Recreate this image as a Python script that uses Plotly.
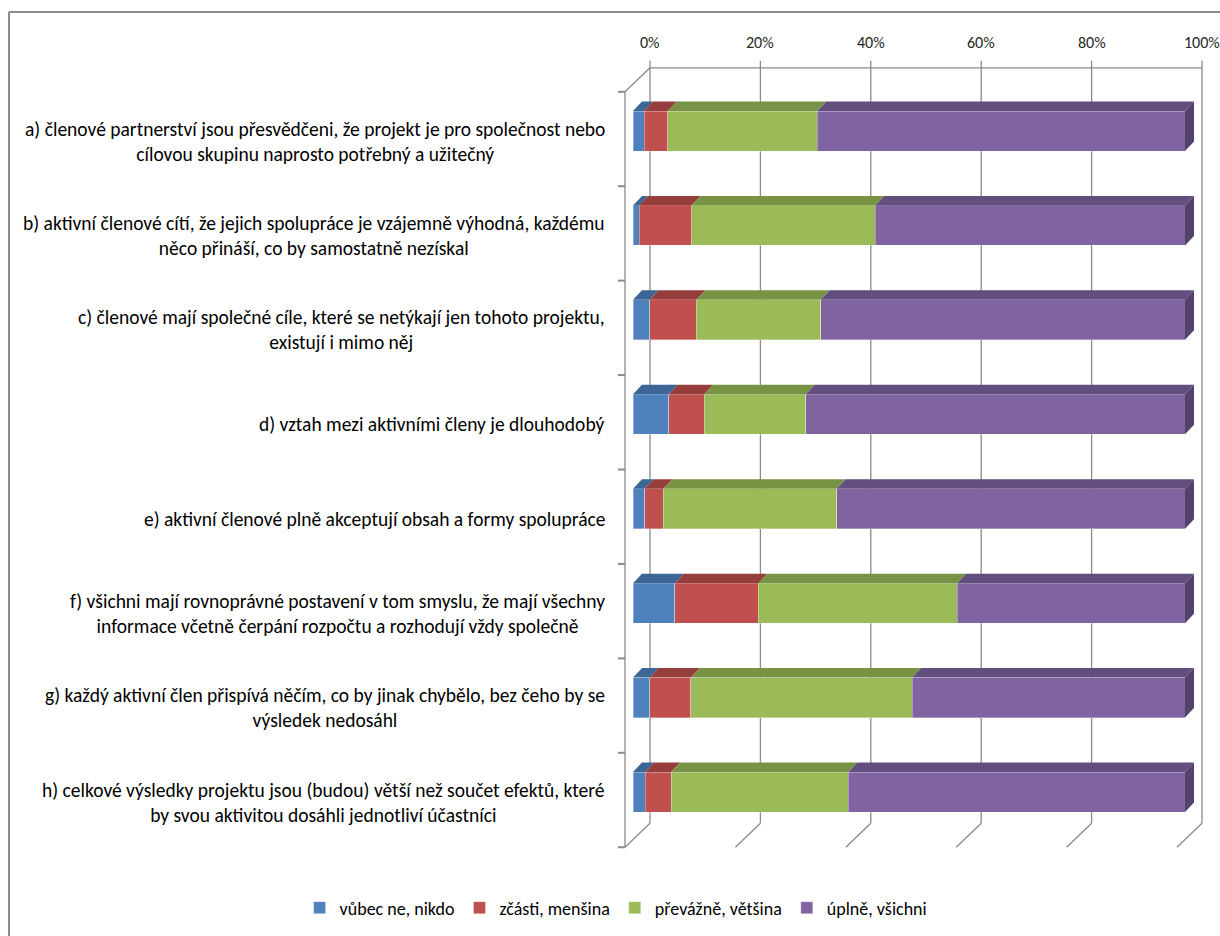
import plotly.graph_objects as go

categories = [
    "a) členové partnerství jsou přesvědčeni, že projekt je pro společnost nebo<br>cílovou skupinu naprosto potřebný a užitečný",
    "b) aktivní členové cítí, že jejich spolupráce je vzájemně výhodná, každému<br>něco přináší, co by samostatně nezískal",
    "c) členové mají společné cíle, které se netýkají jen tohoto projektu,<br>existují i mimo něj",
    "d) vztah mezi aktivními členy je dlouhodobý",
    "e) aktivní členové plně akceptují obsah a formy spolupráce",
    "f) všichni mají rovnoprávné postavení v tom smyslu, že mají všechny<br>informace včetně čerpání rozpočtu a rozhodují vždy společně",
    "g) každý aktivní člen přispívá něčím, co by jinak chybělo, bez čeho by se<br>výsledek nedosáhl",
    "h) celkové výsledky projektu jsou (budou) větší než součet efektů, které<br>by svou aktivitou dosáhli jednotliví účastníci",
]
series_names = ["vůbec ne, nikdo", "zčásti, menšina", "převážně, většina", "úplně, všichni"]
vubec_ne = [2.0, 1.1, 3.0, 6.5, 2.1, 7.6, 3.0, 2.2]
zcasti = [4.3, 9.5, 8.5, 6.4, 3.4, 15.1, 7.5, 4.7]
prevazne = [27.1, 33.3, 22.5, 18.4, 31.4, 36.0, 40.1, 32.1]
uplne = [66.6, 56.1, 66.0, 68.7, 63.1, 41.3, 49.4, 61.0]
x_ticks = [0, 20, 40, 60, 80, 100]
x_tick_labels = ["0%", "20%", "40%", "60%", "80%", "100%"]

front_colors = ["#4f81bd", "#c0504d", "#9bbb59", "#8064a2"]
top_colors = ["#3c6696", "#963e3c", "#789344", "#634e80"]
side_color = "#54426c"
grid_color = "#8a8a8a"

W, H = 1220, 936
# pixel geometry of the bar front plane
X0PX, XSCALE = 633.0, 5.52      # px of 0 %, px per 1 %
Y0PX, YSCALE = 131.0, 94.43     # px of first category centre, px per category
xr = [-X0PX / XSCALE, (W - X0PX) / XSCALE]
yr = [(H - Y0PX) / YSCALE, -Y0PX / YSCALE]

def dxu(px):
    return px / XSCALE

def dyu(px):
    return px / YSCALE

bar_w = dyu(40)
depth_dx, depth_dy = dxu(9), dyu(9.5)
back_dx, back_dy = dxu(17), dyu(-16)
front_dx, front_dy = dxu(-8), dyu(8)

series = [vubec_ne, zcasti, prevazne, uplne]
ypos = list(range(len(categories)))

fig = go.Figure()
for name, vals, col in zip(series_names, series, front_colors):
    fig.add_trace(go.Bar(
        y=ypos, x=vals, name=name, orientation="h", width=bar_w,
        marker=dict(color=col, line=dict(color="rgba(255,255,255,0.55)", width=0.6)),
        hoverinfo="x+name",
    ))

# 3D top faces
for j, (vals, col) in enumerate(zip(series, top_colors)):
    xs, ys = [], []
    for i in ypos:
        start = sum(series[k][i] for k in range(j))
        end = start + vals[i]
        yt = i - bar_w / 2
        xs += [start, end, end + depth_dx, start + depth_dx, start, None]
        ys += [yt, yt, yt - depth_dy, yt - depth_dy, yt, None]
    fig.add_trace(go.Scatter(x=xs, y=ys, fill="toself", fillcolor=col, mode="lines",
                             line=dict(width=0, color=col), hoverinfo="skip", showlegend=False))

# right end faces
xs, ys = [], []
for i in ypos:
    total = sum(s[i] for s in series)
    yt, yb = i - bar_w / 2, i + bar_w / 2
    xs += [total, total + depth_dx, total + depth_dx, total, total, None]
    ys += [yt, yt - depth_dy, yb - depth_dy, yb, yt, None]
fig.add_trace(go.Scatter(x=xs, y=ys, fill="toself", fillcolor=side_color, mode="lines",
                         line=dict(width=0, color=side_color), hoverinfo="skip", showlegend=False))

shapes = []
n = len(categories)
ln = dict(color=grid_color, width=1.3)
top_y = -0.5 + back_dy
bot_y = n - 0.5 + back_dy
for v in x_ticks:
    xb = v + back_dx
    shapes.append(dict(type="line", xref="x", yref="y", x0=xb, x1=xb, y0=top_y - dyu(7), y1=bot_y, line=ln, layer="below"))
    shapes.append(dict(type="line", xref="x", yref="y", x0=xb, x1=v + front_dx, y0=bot_y, y1=n - 0.5 + front_dy, line=ln, layer="below"))
# back wall top edge
shapes.append(dict(type="line", xref="x", yref="y", x0=back_dx, x1=100 + back_dx, y0=top_y, y1=top_y, line=ln, layer="below"))
# left wall front edge and its top diagonal
shapes.append(dict(type="line", xref="x", yref="y", x0=front_dx, x1=front_dx, y0=-0.5 + front_dy, y1=n - 0.5 + front_dy, line=ln, layer="below"))
shapes.append(dict(type="line", xref="x", yref="y", x0=front_dx, x1=back_dx, y0=-0.5 + front_dy, y1=top_y, line=ln, layer="below"))
for k in range(n + 1):
    yk = k - 0.5 + front_dy
    shapes.append(dict(type="line", xref="x", yref="y", x0=front_dx - dxu(7), x1=front_dx, y0=yk, y1=yk,
                       line=dict(color=grid_color, width=2), layer="below"))
# chart border
shapes.append(dict(type="line", xref="paper", yref="paper", x0=9 / W, x1=1.01, y0=1 - 12 / H, y1=1 - 12 / H,
                   line=dict(color="#8c8c8c", width=2)))
shapes.append(dict(type="line", xref="paper", yref="paper", x0=9 / W, x1=9 / W, y0=1 - 12 / H, y1=-0.01,
                   line=dict(color="#8c8c8c", width=2)))

annotations = []
for v, t in zip(x_ticks, x_tick_labels):
    annotations.append(dict(x=v + back_dx, y=dyu(42 - Y0PX), xref="x", yref="y", text=t, showarrow=False,
                            font=dict(size=16, color="#262626"), xanchor="center", yanchor="middle"))
for i, c in enumerate(categories):
    annotations.append(dict(x=607 / W, y=i + dyu(10), xref="paper", yref="y", text=c, showarrow=False,
                            align="center", xanchor="right", yanchor="middle",
                            font=dict(size=19.5, color="#000000")))

fig.update_layout(
    width=W, height=H,
    margin=dict(l=0, r=0, t=0, b=0),
    barmode="stack",
    paper_bgcolor="white", plot_bgcolor="white",
    font=dict(family="Carlito, Lato, 'Liberation Sans Narrow', sans-serif", color="#000000"),
    xaxis=dict(range=xr, visible=False, fixedrange=True),
    yaxis=dict(range=yr, visible=False, fixedrange=True),
    shapes=shapes,
    annotations=annotations,
    showlegend=True,
    legend=dict(orientation="h", x=0.505, xanchor="center", y=1 - 908 / H, yanchor="middle",
                font=dict(size=18, color="#000000"), traceorder="normal", itemwidth=30),
)

fig.write_html("out.html", config={"displayModeBar": False},
               post_script="document.body.style.margin='0';document.body.style.overflow='hidden';")
